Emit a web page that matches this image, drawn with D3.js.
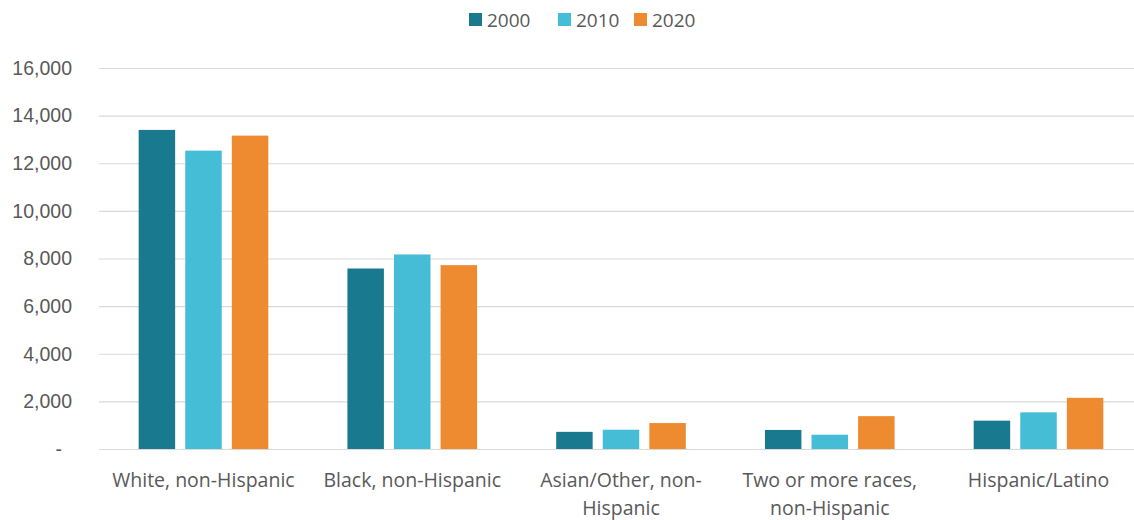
<!DOCTYPE html>
<html>
<head>
<meta charset="utf-8">
<script src="https://cdn.jsdelivr.net/npm/d3@7"></script>
<style>
  html, body { margin: 0; padding: 0; background: #fff; }
  svg { display: block; font-family: "Open Sans", sans-serif; }
</style>
</head>
<body>
<svg id="chart" width="1134" height="520"></svg>
<script>
// Population by race / ethnicity, census years
const categories = [
  ["White, non-Hispanic"],
  ["Black, non-Hispanic"],
  ["Asian/Other, non-", "Hispanic"],
  ["Two or more races,", "non-Hispanic"],
  ["Hispanic/Latino"]
];
const years = ["2000", "2010", "2020"];
const values2000 = [13400, 7580, 720, 800, 1190];
const values2010 = [12530, 8170, 810, 600, 1540];
const values2020 = [13160, 7720, 1090, 1380, 2150];
const yTicks = [0, 2000, 4000, 6000, 8000, 10000, 12000, 14000, 16000];
const yTickLabels = ["-", "2,000", "4,000", "6,000", "8,000", "10,000", "12,000", "14,000", "16,000"];
const colors = ["#18798f", "#45bdd7", "#ee8a2f"];

const series = [values2000, values2010, values2020];
const catKeys = categories.map(c => c.join(" "));

const svg = d3.select("#chart");
const plot = { left: 99, right: 1143, top: 68, bottom: 449 };

const x0 = d3.scaleBand().domain(catKeys).range([plot.left, plot.right])
  .paddingInner(0.379).paddingOuter(0.19);
const x1 = d3.scaleBand().domain(years).range([0, x0.bandwidth()])
  .paddingInner(0.217).paddingOuter(0);
const y = d3.scaleLinear().domain([0, 16000]).range([plot.bottom, plot.top]);

// Horizontal gridlines
const yAxis = d3.axisLeft(y).tickValues(yTicks)
  .tickSize(-(plot.right - plot.left)).tickPadding(27)
  .tickFormat((d, i) => yTickLabels[i]);
const gy = svg.append("g").attr("transform", `translate(${plot.left},0)`).call(yAxis);
gy.select(".domain").remove();
gy.selectAll(".tick line").attr("stroke", "#d9d9d9").attr("stroke-width", 1.2);
gy.selectAll(".tick text")
  .attr("fill", "#595959").style("font-size", "19.5px")
  .attr("dx", d => d === 0 ? -10 : 0);

// Bars
const groups = svg.append("g").selectAll("g")
  .data(catKeys).join("g")
  .attr("transform", d => `translate(${x0(d)},0)`);
groups.selectAll("rect")
  .data((d, ci) => years.map((yr, si) => ({ yr, si, v: series[si][ci] })))
  .join("rect")
  .attr("x", d => x1(d.yr))
  .attr("width", x1.bandwidth())
  .attr("y", d => y(d.v))
  .attr("height", d => y(0) - y(d.v))
  .attr("fill", d => colors[d.si]);

// Category labels (wrapped)
const xl = svg.append("g").selectAll("text")
  .data(categories).join("text")
  .attr("x", (d, i) => x0(catKeys[i]) + x0.bandwidth() / 2)
  .attr("y", 487)
  .attr("text-anchor", "middle")
  .attr("fill", "#595959")
  .style("font-size", "19.5px");
xl.selectAll("tspan").data(d => d).join("tspan")
  .attr("x", function () { return d3.select(this.parentNode).attr("x"); })
  .attr("dy", (d, i) => i === 0 ? 0 : 28)
  .text(d => d);

// Legend
const legendX = [469, 558, 634];
const lg = svg.append("g").selectAll("g").data(years).join("g")
  .attr("transform", (d, i) => `translate(${legendX[i]},0)`);
lg.append("rect").attr("x", 0).attr("y", 13).attr("width", 13).attr("height", 13)
  .attr("fill", (d, i) => colors[i]);
lg.append("text").attr("x", 18).attr("y", 26.5)
  .attr("fill", "#595959").style("font-size", "19px")
  .text(d => d);
</script>
</body>
</html>
